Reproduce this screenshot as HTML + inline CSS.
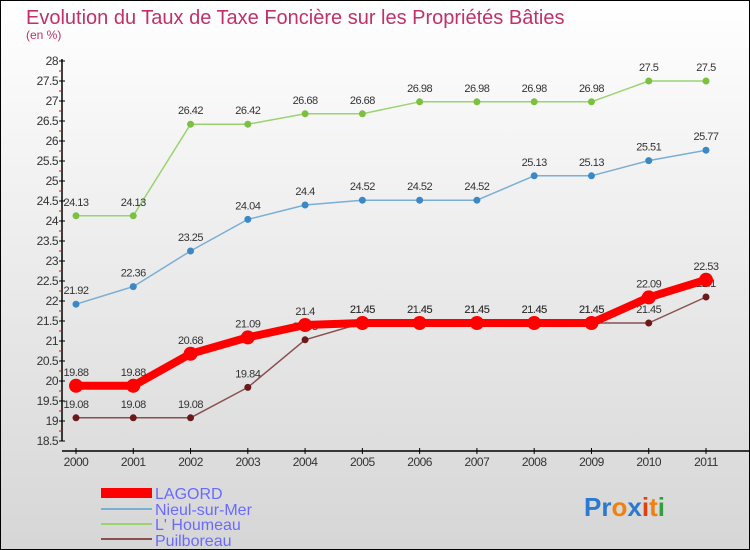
<!DOCTYPE html>
<html><head><meta charset="utf-8">
<style>
body{margin:0;}
#wrap{position:relative;width:748px;height:548px;border:1px solid #000;background:linear-gradient(#ffffff,#d6d6d6);font-family:"Liberation Sans",sans-serif;overflow:hidden;}
</style></head><body>
<div id="wrap">
<svg id="chart" width="748" height="548" style="position:absolute;left:0;top:0">
<text x="25" y="23" font-size="20" fill="#c0306a">Evolution du Taux de Taxe Foncière sur les Propriétés Bâties</text>
<text x="25" y="38" font-size="12" fill="#c0306a">(en %)</text>
<g id="axes"></g><g id="series"></g>
<g>
<rect x="100" y="487" width="51" height="10" fill="#ff0000"/>
<text x="154" y="498" font-size="16" fill="#6a6aff">LAGORD</text>
<line x1="100" y1="508" x2="151" y2="508" stroke="#7aaed4" stroke-width="2"/>
<text x="154" y="514" font-size="16" fill="#6a6aff">Nieul-sur-Mer</text>
<line x1="100" y1="523" x2="151" y2="523" stroke="#99d470" stroke-width="2"/>
<text x="154" y="529" font-size="16" fill="#6a6aff">L' Houmeau</text>
<line x1="100" y1="538" x2="151" y2="538" stroke="#8a5050" stroke-width="2"/>
<text x="154" y="545" font-size="16" fill="#6a6aff">Puilboreau</text>
</g>
<text x="583" y="515" font-size="26" font-weight="bold"><tspan fill="#2a7ad0">Pr</tspan><tspan fill="#f08010">o</tspan><tspan fill="#2a7ad0">x</tspan><tspan fill="#e04010">i</tspan><tspan fill="#f08010">t</tspan><tspan fill="#30a040">i</tspan></text>
</svg>
</div>
<script>
const years=[2000,2001,2002,2003,2004,2005,2006,2007,2008,2009,2010,2011];
const yTicks=[18.5,19,19.5,20,20.5,21,21.5,22,22.5,23,23.5,24,24.5,25,25.5,26,26.5,27,27.5,28];
const lagord=[19.88,19.88,20.68,21.09,21.4,21.45,21.45,21.45,21.45,21.45,22.09,22.53];
const nieul=[21.92,22.36,23.25,24.04,24.4,24.52,24.52,24.52,25.13,25.13,25.51,25.77];
const houmeau=[24.13,24.13,26.42,26.42,26.68,26.68,26.98,26.98,26.98,26.98,27.5,27.5];
const puilboreau=[19.08,19.08,19.08,19.84,21.03,21.45,21.45,21.45,21.45,21.45,21.45,22.1];
const NS="http://www.w3.org/2000/svg";
const xS=i=>75+i*(630/(years.length-1));
const yS=v=>60+(28-v)*40;
function mk(t,a,p){const e=document.createElementNS(NS,t);for(const k in a)e.setAttribute(k,a[k]);p.appendChild(e);return e;}
const ax=document.getElementById('axes'),se=document.getElementById('series');
const yl=mk('line',{x1:61,y1:58,x2:61,y2:440,stroke:'#000','stroke-width':1.5},ax);


yTicks.forEach((v,i)=>{
 const t=mk('line',{x1:58,x2:64,y1:yS(v),y2:yS(v),stroke:'#000'},ax);
 
 
 if(i<yTicks.length-1){const m=mk('line',{x1:58,x2:61,y1:yS(v+0.25),y2:yS(v+0.25),stroke:'#e00'},ax);
  
  }
 const l=mk('text',{x:57,y:yS(v)+4,'text-anchor':'end','font-size':12,fill:'#333','letter-spacing':'-0.5'},ax);
 
 
 l.textContent=String(v);
});
const xl=mk('line',{x1:61,y1:450,x2:748,y2:450,stroke:'#000','stroke-width':1.5},ax);


years.forEach((y,i)=>{
 const t=mk('line',{x1:xS(i),x2:xS(i),y1:447,y2:453,stroke:'#000'},ax);
 
 
 const l=mk('text',{x:xS(i),y:465,'text-anchor':'middle','font-size':12,fill:'#333','letter-spacing':'-0.5'},ax);
 
 
 l.textContent=y;
});
function series(vals,color,w,r,fill,name){
 const g=mk('g',{},se);
 
 
 const p=mk('polyline',{points:vals.map((v,i)=>xS(i)+','+yS(v)).join(' '),fill:'none',stroke:color,'stroke-width':w,'stroke-linejoin':'round'},g);
 
 
 vals.forEach((v,i)=>{
  const c=mk('circle',{cx:xS(i),cy:yS(v),r:r,fill:fill},g);
  
  
  const t=mk('text',{x:xS(i),y:yS(v)-10,'text-anchor':'middle','font-size':11,fill:'#333','letter-spacing':'-0.5'},g);
  
  
  t.textContent=String(v);
 });
}
series(houmeau,'#99d470',1.5,3.5,'#7cc040','houmeau');
series(nieul,'#7aaed4',1.5,3.5,'#3a88c8','nieul');
series(puilboreau,'#8a5050',1.5,3.5,'#6a1a1a','puilboreau');
series(lagord,'#ff0000',8,7,'#ff0000','lagord');
</script>
</body></html>
